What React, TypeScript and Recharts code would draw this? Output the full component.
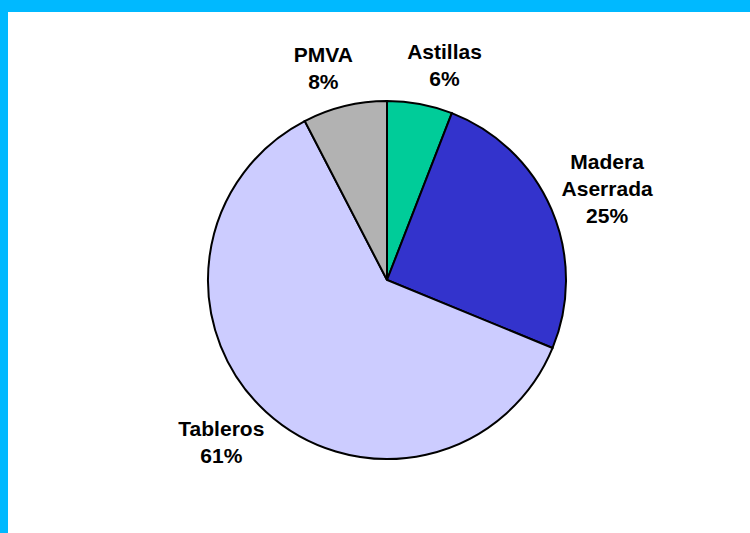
import React from 'react';
import { PieChart, Pie, Cell } from 'recharts';

const categories = ['Astillas', 'Madera Aserrada', 'Tableros', 'PMVA'];
const shares = [5.9, 25.3, 61.2, 7.6];
const sliceColors = ['#00CC99', '#3333CC', '#CCCCFF', '#B2B2B2'];

const data = categories.map((name, i) => ({ name, value: shares[i] }));
const total = shares.reduce((a, b) => a + b, 0);

const RADIAN = Math.PI / 180;
const FONT_SIZE = 21;
const LINE_H = 27;
const FONT = "'Liberation Sans', Arial, sans-serif";

let ctx: CanvasRenderingContext2D | null = null;
const textWidth = (s: string) => {
  if (!ctx) ctx = document.createElement('canvas').getContext('2d');
  if (!ctx) return s.length * 11;
  ctx.font = `bold ${FONT_SIZE}px ${FONT}`;
  return ctx.measureText(s).width;
};

// label box sits just outside the slice, pushed outward along the mid angle
const renderLabel = (props: any) => {
  const { cx, cy, midAngle, outerRadius, name, value } = props;
  const lines = [...String(name).split(' '), `${Math.round((value / total) * 100)}%`];
  const ux = Math.cos(-midAngle * RADIAN);
  const uy = Math.sin(-midAngle * RADIAN);
  const w = Math.max(...lines.map(textWidth));
  const h = lines.length * LINE_H;
  const d = outerRadius + 13;
  const x = cx + d * ux + (w / 2) * (ux + Math.sign(ux)) / 2;
  const y = cy + d * uy + (h / 2) * uy;
  const y0 = y - ((lines.length - 1) * LINE_H) / 2;
  return (
    <text
      x={x}
      y={y0}
      textAnchor="middle"
      dominantBaseline="central"
      fill="#000"
      fontFamily={FONT}
      fontWeight="bold"
      fontSize={FONT_SIZE}
    >
      {lines.map((l, i) => (
        <tspan key={i} x={x} y={y0 + i * LINE_H}>
          {l}
        </tspan>
      ))}
    </text>
  );
};

export default function App() {
  return (
    <div style={{ position: 'fixed', left: 0, top: 0, width: 750, height: 533, background: '#fff', overflow: 'hidden' }}>
      <div style={{ position: 'absolute', left: 0, top: 0, width: 750, height: 12, background: '#00B9FF' }} />
      <div style={{ position: 'absolute', left: 0, top: 0, width: 8, height: 533, background: '#00B9FF' }} />
      <div style={{ position: 'absolute', left: 0, top: 0 }}>
        <PieChart width={750} height={533} margin={{ top: 0, right: 0, bottom: 0, left: 0 }}>
          <Pie
            data={data}
            dataKey="value"
            nameKey="name"
            cx={387}
            cy={280}
            outerRadius={179}
            startAngle={90}
            endAngle={-270}
            stroke="#000"
            strokeWidth={2}
            label={renderLabel}
            labelLine={false}
            isAnimationActive={false}
          >
            {data.map((d, i) => (
              <Cell key={d.name} fill={sliceColors[i]} />
            ))}
          </Pie>
        </PieChart>
      </div>
    </div>
  );
}
